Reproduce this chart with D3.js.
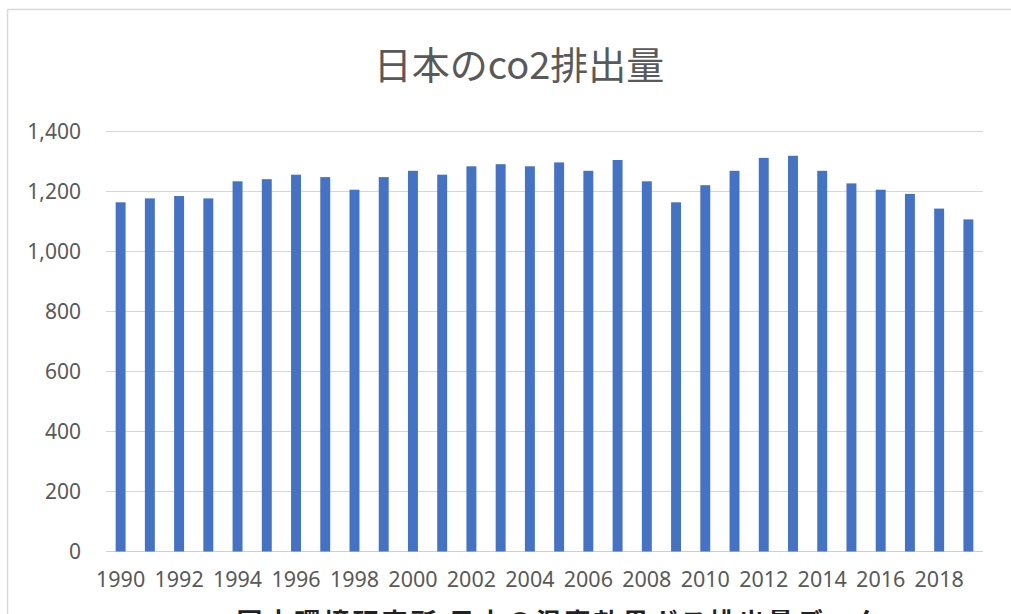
<!DOCTYPE html>
<html><head><meta charset="utf-8">
<script src="https://cdn.jsdelivr.net/npm/d3@7"></script>
<style>
html,body{margin:0;padding:0;background:#fff;overflow:hidden;}
svg{display:block;}
</style></head>
<body>
<svg id="c" width="1011" height="614"></svg>
<script>
const years = ["1990","1991","1992","1993","1994","1995","1996","1997","1998","1999","2000","2001","2002","2003","2004","2005","2006","2007","2008","2009","2010","2011","2012","2013","2014","2015","2016","2017","2018","2019"];
const emissions = [1164,1177,1185,1177,1234,1241,1256,1248,1206,1248,1269,1256,1284,1291,1284,1297,1269,1305,1234,1164,1221,1269,1312,1319,1269,1227,1206,1192,1143,1107];
const yTicks = [0,200,400,600,800,1000,1200,1400];
const xLabels = ["1990","1992","1994","1996","1998","2000","2002","2004","2006","2008","2010","2012","2014","2016","2018"];
const title = "日本のco2排出量";
const axisTitle = "国立環境研究所 日本の温室効果ガス排出量データ";

const svg = d3.select("#c");
const font = "'Noto Sans','Noto Sans CJK JP',sans-serif";

// chart border
svg.append("rect").attr("x",7.5).attr("y",9.5).attr("width",1100).attr("height",700)
  .attr("fill","#fff").attr("stroke","#d9d9d9").attr("stroke-width",1.5);

const x = d3.scaleBand().domain(years).range([106,983]).paddingInner(0.66).paddingOuter(0.33);
const y = d3.scaleLinear().domain([0,1400]).range([551.5,131.5]);

// gridlines
svg.append("g").selectAll("line").data(yTicks).join("line")
  .attr("x1",106).attr("x2",983)
  .attr("y1",d=>y(d)).attr("y2",d=>y(d))
  .attr("stroke",d=>d===0?"#cfcfcf":"#d6d6d6").attr("stroke-width",1);

// y axis labels
const ya = svg.append("g").attr("transform","translate(81,0)")
  .call(d3.axisLeft(y).tickValues(yTicks).tickSize(0).tickPadding(0).tickFormat(d3.format(",")));
ya.select(".domain").remove();
ya.selectAll("text").attr("font-family",font).attr("font-size",21).attr("fill","#595959");

// bars
svg.append("g").selectAll("rect").data(years).join("rect")
  .attr("x",d=>x(d)).attr("width",x.bandwidth())
  .attr("y",(d,i)=>y(emissions[i])).attr("height",(d,i)=>y(0)-y(emissions[i]))
  .attr("fill","#4472c4");

// x axis labels
const xa = svg.append("g").attr("transform","translate(0,569)")
  .call(d3.axisBottom(x).tickValues(xLabels).tickSize(0).tickPadding(0));
xa.select(".domain").remove();
xa.selectAll("text").attr("font-family",font).attr("font-size",21.5).attr("fill","#595959").attr("dy","0.85em");

// title
svg.append("text").attr("x",519).attr("y",79).attr("text-anchor","middle")
  .attr("font-family","'Noto Sans CJK JP','Noto Sans',sans-serif").attr("font-size",38).attr("fill","#595959")
  .text(title);

// axis title (cut off at bottom edge, as in the reference)
svg.append("text").attr("x",560).attr("y",632).attr("text-anchor","middle")
  .attr("font-family","'Noto Sans CJK JP',sans-serif").attr("font-size",26).attr("letter-spacing",3)
  .attr("font-weight","bold").attr("fill","#222")
  .text(axisTitle);
</script>
</body></html>
